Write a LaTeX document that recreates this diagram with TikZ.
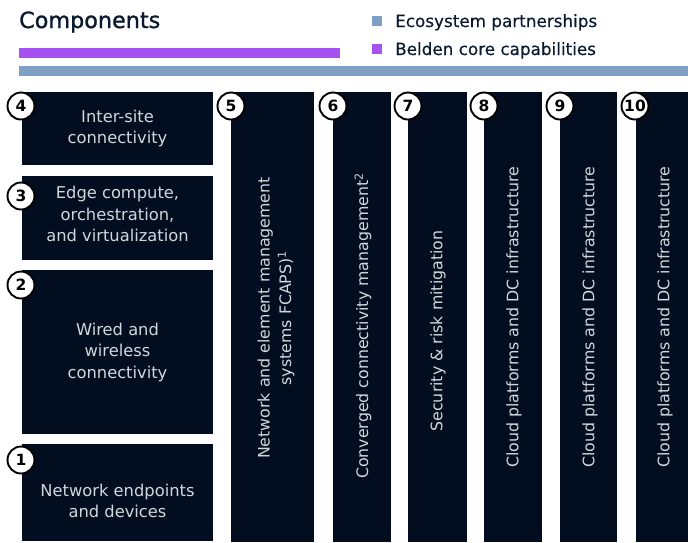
\documentclass[tikz,border=0pt]{standalone}
\usepackage{fontspec}
\setmainfont{DejaVu Sans}
\newfontfamily\titlefont{DejaVu Sans}[FakeBold=1.2]
\newfontfamily\legendfont{DejaVu Sans}[FakeBold=0.4]
\definecolor{navy}{HTML}{020E1F}
\definecolor{barblue}{HTML}{7F9FC4}
\definecolor{barpurple}{HTML}{A652F2}
\definecolor{boxtext}{HTML}{D2D6DC}
\definecolor{titlecol}{HTML}{0B1A2E}
\tikzset{
  panel/.style={fill=navy, draw=none, inner sep=0pt},
  paneltext/.style={text=boxtext, align=center, inner sep=0pt, font=\fontsize{16.3}{21.5}\selectfont},
  rottext/.style={paneltext, rotate=90, font=\fontsize{15.8}{21.5}\selectfont},
  numcircle/.style={circle, fill=white, draw=black, line width=1.9pt, minimum size=27pt, inner sep=0pt, font=\bfseries\fontsize{15.5}{15.5}\selectfont},
  legendsq/.style={fill=barblue, draw=none, minimum size=10pt, inner sep=0pt},
  legendtext/.style={text=titlecol, anchor=west, inner sep=0pt, font=\legendfont\fontsize{16.8}{18}\selectfont}
}
\begin{document}
\begin{tikzpicture}[x=1pt,y=-1pt]
\useasboundingbox (0,0) rectangle (688,542);
% title and legend
\node[anchor=base west, inner sep=0pt, text=titlecol, font=\titlefont\fontsize{22.3}{24}\selectfont] (title) at (19,28) {Components};
\node[legendsq] (sqeco) at (377,21) {};
\node[legendsq, fill=barpurple] (sqbel) at (377,49) {};
\node[legendtext, anchor=base west] (lgeco) at (395,27) {Ecosystem partnerships};
\node[legendtext, anchor=base west] (lgbel) at (395,55) {Belden core capabilities};
% bars
\fill[barpurple] (19,48) rectangle (340,58);
\fill[barblue] (19,66) rectangle (688,76);
% left stack
\node[panel, minimum width=191pt, minimum height=73pt] (b4) at (117.5,128.5) {};
\node[paneltext] (t4) at (117.5,128.5) {Inter-site\\connectivity};
\node[panel, minimum width=191pt, minimum height=84pt] (b3) at (117.5,218) {};
\node[paneltext] (t3) at (117.5,214) {Edge compute,\\orchestration,\\and virtualization};
\node[panel, minimum width=191pt, minimum height=164pt] (b2) at (117.5,352) {};
\node[paneltext] (t2) at (117.5,352) {Wired and\\wireless\\connectivity};
\node[panel, minimum width=191pt, minimum height=97pt] (b1) at (117.5,492.5) {};
\node[paneltext] (t1) at (117.5,501) {Network endpoints\\and devices};
% columns
\node[panel, minimum width=83pt, minimum height=450pt] (b5) at (272.5,317) {};
\node[rottext] (t5) at (276,318) {Network and element management\\systems FCAPS)\textsuperscript{1}};
\node[panel, minimum width=58pt, minimum height=450pt] (b6) at (361.5,317) {};
\node[rottext] (t6) at (363,326) {Converged connectivity management\textsuperscript{2}};
\node[panel, minimum width=59pt, minimum height=450pt] (b7) at (437.5,317) {};
\node[rottext] (t7) at (438,331) {Security \& risk mitigation};
\node[panel, minimum width=58pt, minimum height=450pt] (b8) at (513,317) {};
\node[rottext] (t8) at (514,317) {Cloud platforms and DC infrastructure};
\node[panel, minimum width=57pt, minimum height=450pt] (b9) at (588.5,317) {};
\node[rottext] (t9) at (590,317) {Cloud platforms and DC infrastructure};
\node[panel, minimum width=52pt, minimum height=450pt] (b10) at (662,317) {};
\node[rottext] (t10) at (665,317) {Cloud platforms and DC infrastructure};
% number circles
\node[numcircle] (n4) at (21,106) {4};
\node[numcircle] (n3) at (21,196) {3};
\node[numcircle] (n2) at (21,285) {2};
\node[numcircle] (n1) at (21,460) {1};
\node[numcircle] (n5) at (231,106) {5};
\node[numcircle] (n6) at (333,106) {6};
\node[numcircle] (n7) at (408,106) {7};
\node[numcircle] (n8) at (484,106) {8};
\node[numcircle] (n9) at (560,106) {9};
\node[numcircle] (n10) at (635,106) {10};
\end{tikzpicture}
\end{document}
